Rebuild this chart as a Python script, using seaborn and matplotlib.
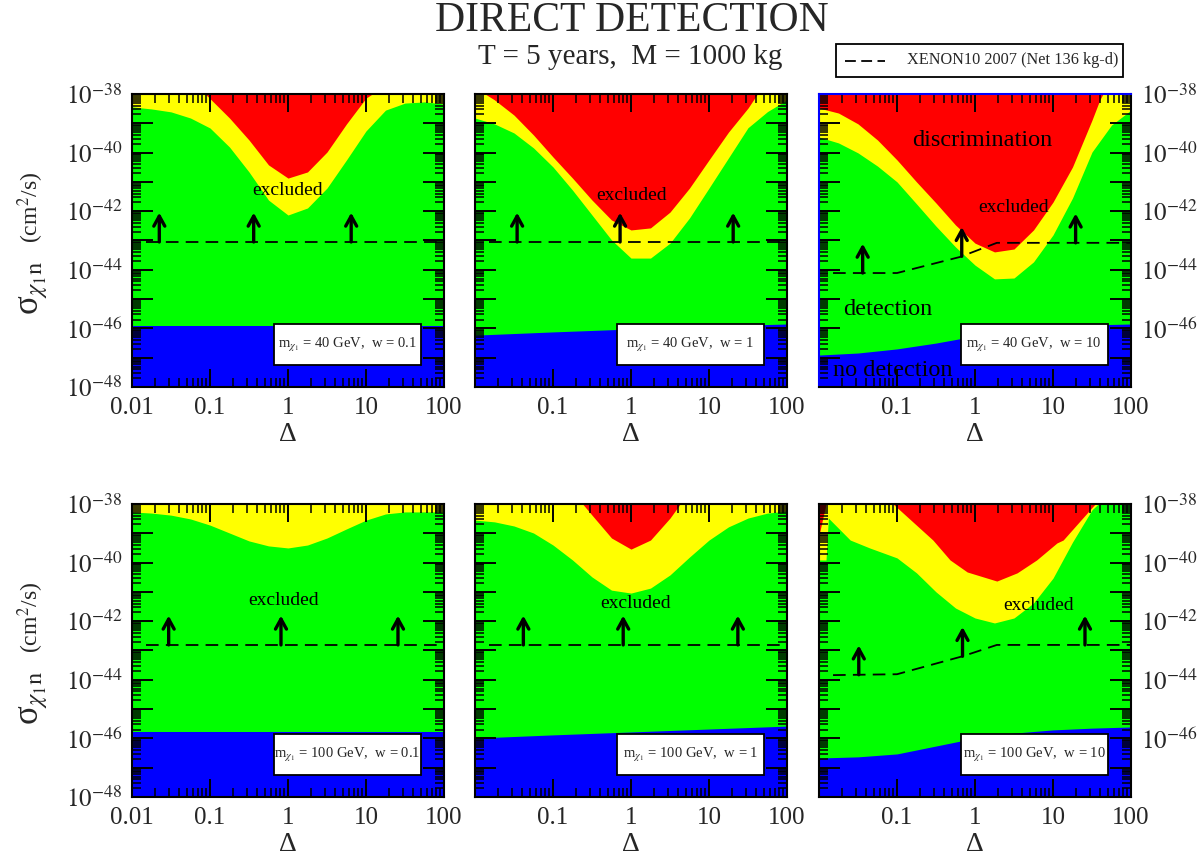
import numpy as np
import matplotlib
matplotlib.use("Agg")
import matplotlib.pyplot as plt
import seaborn as sns
from matplotlib.patches import Rectangle
from matplotlib.lines import Line2D
from matplotlib.ticker import LogLocator

# ---------------- data (log10 values) ----------------
LOG_DELTA = [-2.0, -1.75, -1.5, -1.25, -1.0, -0.75, -0.5, -0.25, 0.0,
             0.25, 0.5, 0.75, 1.0, 1.25, 1.5, 1.75, 2.0]

# panel 1 : m = 40 GeV, w = 0.1
p1_green_x = LOG_DELTA
p1_green_top = [-38.44, -38.51, -38.61, -38.82, -39.16, -39.81, -40.66, -41.62, -42.13,
                -41.89, -41.21, -40.25, -39.26, -38.55, -38.31, -38.27, -38.34]
p1_red_x = [-1.06, -0.75, -0.5, -0.25, 0.0, 0.25, 0.5, 0.75, 1.0, 1.08]
p1_red_y = [-38.0, -38.82, -39.57, -40.42, -40.87, -40.66, -39.98, -39.02, -38.14, -38.0]
p1_blue_x = [-2.0, 2.0]
p1_blue_y = [-45.92, -45.92]
p1_limit_x = [-1.82, 2.0]
p1_limit_y = [-43.05, -43.05]
p1_arrows = [-1.65, -0.44, 0.81]

# panel 2 : m = 40 GeV, w = 1
p2_green_x = LOG_DELTA
p2_green_top = [-38.82, -39.02, -39.33, -39.84, -40.49, -41.28, -42.13, -42.98, -43.60,
                -43.60, -43.09, -42.23, -41.21, -40.18, -39.15, -38.60, -38.20]
p2_red_x = [-1.87, -1.75, -1.5, -1.25, -1.0, -0.75, -0.5, -0.25, 0.0, 0.25, 0.5,
            0.75, 1.0, 1.25, 1.5, 1.62]
p2_red_y = [-38.0, -38.20, -38.72, -39.40, -40.15, -40.87, -41.62, -42.30, -42.64,
            -42.57, -42.03, -41.21, -40.25, -39.30, -38.48, -38.0]
p2_blue_x = [-2.0, -1.0, 0.0, 1.0, 2.0]
p2_blue_y = [-46.23, -46.12, -46.02, -45.92, -45.85]
p2_limit_x = [-1.82, 2.0]
p2_limit_y = [-43.05, -43.05]
p2_arrows = [-1.46, -0.14, 1.31]

# panel 3 : m = 40 GeV, w = 10
p3_green_x = LOG_DELTA
p3_green_top = [-39.47, -39.67, -40.01, -40.46, -41.00, -41.75, -42.51, -43.22, -43.84,
                -44.31, -44.28, -43.73, -42.81, -41.55, -39.98, -39.06, -38.55]
p3_red_x = [-2.0, -1.75, -1.5, -1.25, -1.0, -0.75, -0.5, -0.25, 0.0, 0.25, 0.5,
            0.75, 1.0, 1.25, 1.5, 1.60, 1.64]
p3_red_y = [-38.48, -38.65, -39.02, -39.57, -40.25, -41.00, -41.72, -42.47, -43.09,
            -43.39, -43.29, -42.64, -41.69, -40.49, -38.89, -38.20, -38.0]
p3_blue_x = [-2.0, -1.5, -1.0, -0.5, 0.0, 0.5, 1.0, 1.5, 2.0]
p3_blue_y = [-46.91, -46.84, -46.70, -46.50, -46.26, -46.05, -45.95, -45.88, -45.85]
p3_limit_x = [-1.82, -1.0, -0.19, 0.28, 2.0]
p3_limit_y = [-44.11, -44.11, -43.56, -43.08, -43.08]
p3_arrows = [-1.44, -0.17, 1.29]

# panel 4 : m = 100 GeV, w = 0.1
p4_green_x = LOG_DELTA
p4_green_top = [-38.27, -38.31, -38.38, -38.51, -38.72, -38.99, -39.26, -39.43, -39.50,
                -39.40, -39.16, -38.85, -38.55, -38.34, -38.27, -38.27, -38.27]
p4_red_x = []
p4_red_y = []
p4_blue_x = [-2.0, 2.0]
p4_blue_y = [-45.77, -45.77]
p4_limit_x = [-1.82, 2.0]
p4_limit_y = [-42.81, -42.81]
p4_arrows = [-1.53, -0.09, 1.41]

# panel 5 : m = 100 GeV, w = 1
p5_green_x = LOG_DELTA
p5_green_top = [-38.55, -38.61, -38.75, -38.99, -39.40, -39.91, -40.49, -40.94, -41.04,
                -40.87, -40.42, -39.81, -39.23, -38.78, -38.48, -38.31, -38.24]
p5_red_x = [-0.62, -0.5, -0.25, 0.0, 0.25, 0.5, 0.63]
p5_red_y = [-38.0, -38.38, -39.16, -39.54, -39.23, -38.48, -38.0]
p5_blue_x = [-2.0, -1.0, 0.0, 1.0, 2.0]
p5_blue_y = [-45.99, -45.88, -45.78, -45.68, -45.58]
p5_limit_x = [-1.82, 2.0]
p5_limit_y = [-42.81, -42.81]
p5_arrows = [-1.38, -0.10, 1.37]

# panel 6 : m = 100 GeV, w = 10
p6_green_x = [-2.0, -1.91, -1.88, -1.6, -1.35, -1.0, -0.75, -0.5, -0.25, 0.0, 0.25,
              0.5, 0.75, 1.0, 1.25, 1.5, 1.6, 2.0]
p6_green_top = [-39.91, -39.91, -38.48, -39.23, -39.50, -39.84, -40.35, -41.00, -41.55,
                -41.89, -42.06, -41.89, -41.38, -40.53, -39.30, -38.20, -37.95, -37.95]
p6_red_x = [-1.05, -0.54, -0.32, -0.10, 0.28, 0.54, 0.79, 1.05, 1.13, 1.54]
p6_red_y = [-38.0, -39.23, -39.91, -40.32, -40.63, -40.35, -39.91, -39.33, -39.23, -38.0]
p6_corner_x = [-2.0, -1.91]
p6_corner_y = [-39.06, -38.0]
p6_blue_x = [-2.0, -1.5, -1.0, -0.5, 0.0, 0.5, 1.0, 1.5, 2.0]
p6_blue_y = [-46.67, -46.63, -46.53, -46.26, -45.99, -45.82, -45.71, -45.65, -45.61]
p6_limit_x = [-1.82, -1.0, -0.15, 0.28, 2.0]
p6_limit_y = [-43.84, -43.81, -43.19, -42.81, -42.81]
p6_arrows = [-1.49, -0.16, 1.41]

PANEL_MASS = ["40", "40", "40", "100", "100", "100"]
PANEL_W = ["0.1", "1", "10", "0.1", "1", "10"]

# in-panel words: (text, log Delta, log sigma, size)
p1_words = [("excluded", -0.01, -41.28, 14)]
p2_words = [("excluded", 0.01, -41.45, 14)]
p3_words = [("discrimination", 0.09, -39.57, 17.5), ("excluded", 0.49, -41.86, 14),
            ("detection", -1.12, -45.37, 17.5), ("no detection", -1.05, -47.42, 17.5)]
p4_words = [("excluded", -0.06, -41.31, 14)]
p5_words = [("excluded", 0.06, -41.38, 14)]
p6_words = [("excluded", 0.81, -41.45, 14)]

XTICK_VALUES = [0.01, 0.1, 1, 10, 100]
XTICK_TEXT = ["0.01", "0.1", "1", "10", "100"]
Y_DECADES = list(range(-48, -37))

panels = [
    dict(g=(p1_green_x, p1_green_top), r=[(p1_red_x, p1_red_y)], b=(p1_blue_x, p1_blue_y),
         lim=(p1_limit_x, p1_limit_y), arr=p1_arrows, words=p1_words),
    dict(g=(p2_green_x, p2_green_top), r=[(p2_red_x, p2_red_y)], b=(p2_blue_x, p2_blue_y),
         lim=(p2_limit_x, p2_limit_y), arr=p2_arrows, words=p2_words),
    dict(g=(p3_green_x, p3_green_top), r=[(p3_red_x, p3_red_y)], b=(p3_blue_x, p3_blue_y),
         lim=(p3_limit_x, p3_limit_y), arr=p3_arrows, words=p3_words),
    dict(g=(p4_green_x, p4_green_top), r=[(p4_red_x, p4_red_y)], b=(p4_blue_x, p4_blue_y),
         lim=(p4_limit_x, p4_limit_y), arr=p4_arrows, words=p4_words),
    dict(g=(p5_green_x, p5_green_top), r=[(p5_red_x, p5_red_y)], b=(p5_blue_x, p5_blue_y),
         lim=(p5_limit_x, p5_limit_y), arr=p5_arrows, words=p5_words),
    dict(g=(p6_green_x, p6_green_top), r=[(p6_red_x, p6_red_y), (p6_corner_x, p6_corner_y)],
         b=(p6_blue_x, p6_blue_y), lim=(p6_limit_x, p6_limit_y), arr=p6_arrows, words=p6_words),
]

# ---------------- style ----------------
sns.set_theme(style="ticks")
plt.rcParams["font.family"] = ["Liberation Serif", "DejaVu Serif"]
plt.rcParams["mathtext.fontset"] = "stix"
plt.rcParams["axes.linewidth"] = 1.5
plt.rcParams["axes.axisbelow"] = False

RED, YELLOW, GREEN, BLUE = "#ff0000", "#ffff00", "#00ff00", "#0000ff"

W, H = 1203, 857
fig = plt.figure(figsize=(W / 100, H / 100), dpi=100)
fig.patch.set_facecolor("white")

COL_LEFT = [132, 475, 819]
ROW_TOP = [94, 504]
PW, PH = 312, 293

for i, p in enumerate(panels):
    row, col = divmod(i, 3)
    x0, y0 = COL_LEFT[col], ROW_TOP[row]
    ax = fig.add_axes([x0 / W, 1 - (y0 + PH) / H, PW / W, PH / H])
    ax.set_axisbelow(False)
    ax.set_xscale("log")
    ax.set_yscale("log")
    ax.set_xlim(0.01, 100)
    ax.set_ylim(1e-48, 1e-38)
    ax.set_facecolor(GREEN)

    gx, gy = p["g"]
    ax.fill_between(10.0 ** np.array(gx), 10.0 ** np.array(gy), 1e-36,
                    color=YELLOW, lw=0, zorder=1)
    for rx, ry in p["r"]:
        if len(rx):
            ax.fill_between(10.0 ** np.array(rx), 10.0 ** np.array(ry), 1e-36,
                            color=RED, lw=0, zorder=1.1)
    bx, by = p["b"]
    ax.fill_between(10.0 ** np.array(bx), 1e-50, 10.0 ** np.array(by),
                    color=BLUE, lw=0, zorder=1.2)

    lx, ly = p["lim"]
    sns.lineplot(x=10.0 ** np.array(lx), y=10.0 ** np.array(ly), ax=ax, color="black",
                 lw=1.3, linestyle=(0, (7, 4)), zorder=3)
    for a in p["arr"]:
        base = np.interp(a, lx, ly)
        ax.annotate("", xy=(10.0 ** a, 10.0 ** (base + 1.0)), xytext=(10.0 ** a, 10.0 ** base),
                    arrowprops=dict(arrowstyle="->, head_length=0.6, head_width=0.33",
                                    lw=2.4, color="black", shrinkA=0, shrinkB=0),
                    zorder=4)

    for txt, xl, yl, fs in p["words"]:
        ax.text(10.0 ** xl, 10.0 ** yl, txt, fontsize=fs, ha="center", va="center",
                color="black", zorder=4)

    ax.add_patch(Rectangle((0.455, 0.075), 0.47, 0.14, transform=ax.transAxes,
                           facecolor="white", edgecolor="black", lw=1.3, zorder=5))
    ax.text(0.69, 0.145, r"m$_{\chi_1}$ = %s GeV,  w = %s" % (PANEL_MASS[i], PANEL_W[i]),
            transform=ax.transAxes, ha="center", va="center", fontsize=10.5, zorder=6)

    # ticks
    ax.set_xticks(XTICK_VALUES)
    ax.set_xticklabels([t if (col == 0 or k > 0) else "" for k, t in enumerate(XTICK_TEXT)])
    ax.xaxis.set_minor_locator(LogLocator(base=10, subs=np.arange(2, 10), numticks=100))
    ax.set_yticks([10.0 ** e for e in Y_DECADES])
    ylabels = []
    for e in Y_DECADES:
        show = (e % 2 == 0) and (col == 0 or (col == 2 and e != -48))
        ylabels.append(r"$10^{%d}$" % e if show else "")
    ax.set_yticklabels(ylabels)
    ax.yaxis.set_minor_locator(LogLocator(base=10, subs=np.arange(2, 10), numticks=100))
    ax.tick_params(which="both", direction="in", top=True, right=True, bottom=True, left=True,
                   color="black", labelsize=18, pad=7)
    ax.tick_params(which="major", length=13, width=1.4)
    ax.tick_params(which="minor", length=6.5, width=1.1)
    ax.tick_params(axis="y", which="major", length=15)
    ax.tick_params(axis="y", labelleft=(col == 0), labelright=(col == 2))
    ax.set_xlabel("Δ", fontsize=20, labelpad=2.5)
    ax.set_ylabel("")
    for s in ax.spines.values():
        s.set_color("black")
        s.set_linewidth(1.5)
        s.set_zorder(6)
    if i == 2:
        ax.spines["top"].set_color(BLUE)
        ax.spines["left"].set_color(BLUE)

# titles
fig.text(632 / W, 1 - 21 / H, "DIRECT DETECTION", fontsize=30, ha="center", va="center")
fig.text(630 / W, 1 - 57 / H, "T = 5 years,  M = 1000 kg", fontsize=21, ha="center", va="center")

# top legend
fig.add_artist(Rectangle((836 / W, 1 - 77 / H), (1123 - 836) / W, 33 / H,
                         transform=fig.transFigure, facecolor="white", edgecolor="black", lw=1.3))
fig.add_artist(Line2D([845 / W, 885 / W], [1 - 61 / H, 1 - 61 / H], transform=fig.transFigure,
                      color="black", lw=1.3, linestyle=(0, (6, 3))))
fig.text(907 / W, 1 - 60 / H, "XENON10 2007 (Net 136 kg-d)", fontsize=11.7, ha="left", va="center")

# y axis labels
for r in range(2):
    off = 410 * r
    fig.text(33 / W, 1 - (288 + off) / H, r"σ$_{\chi_1 \mathrm{n}}$", rotation=90, fontsize=25,
             ha="center", va="center")
    fig.text(31 / W, 1 - (207 + off) / H, r"(cm$^2$/s)", rotation=90, fontsize=17,
             ha="center", va="center")

fig.savefig("out.png", dpi=100)
